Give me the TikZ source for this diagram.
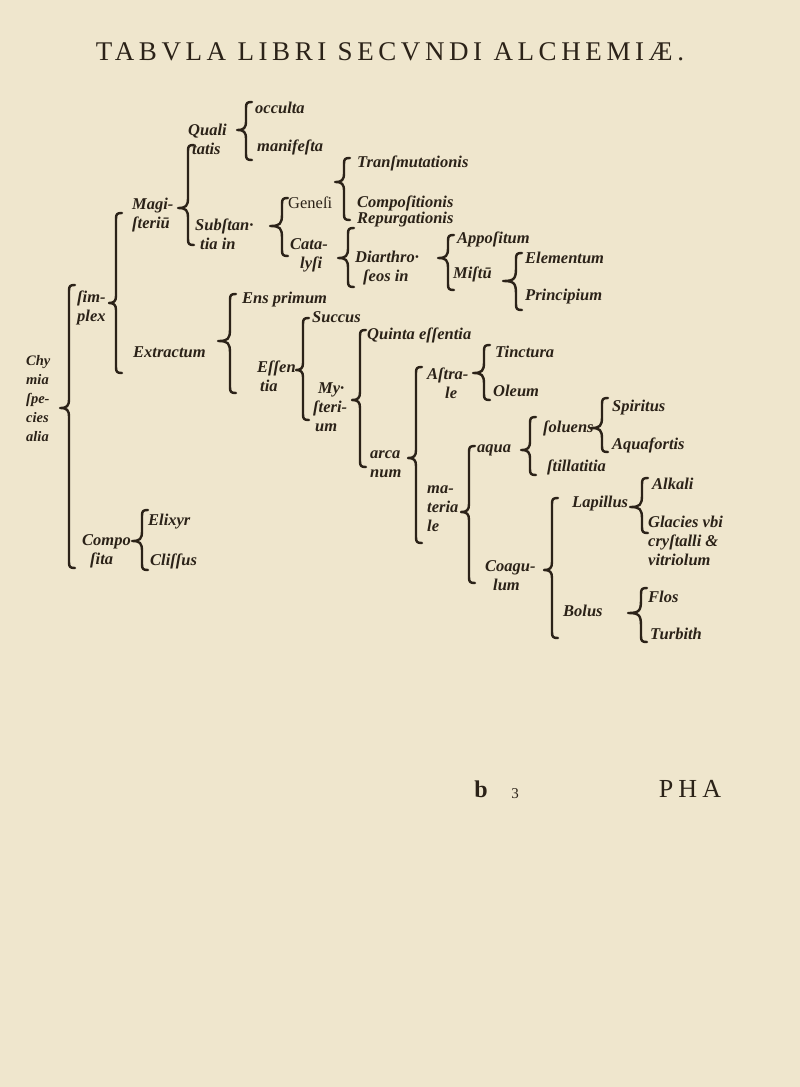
\documentclass[tikz,border=0pt]{standalone}
\usepackage{fontspec}
\setmainfont{Liberation Serif}
\definecolor{paper}{HTML}{EFE6CD}
\definecolor{ink}{HTML}{2B2218}
\newcommand\lblfont{\fontsize{16.5}{19}\selectfont\bfseries\itshape}
\newcommand\genfont{\fontsize{16.5}{19}\selectfont}
\newcommand\chyfont{\fontsize{14.5}{19}\selectfont\bfseries\itshape}
\newcommand\titlefont{\fontsize{27}{30}\selectfont\addfontfeature{LetterSpace=17}}
\newcommand\catchfont{\fontsize{26}{30}\selectfont\addfontfeature{LetterSpace=20}}
% curly brace: line x, tip x, top y, tip y, bottom y
\newcommand\brc[5]{\draw[bracestyle] ({#1+6},#3) .. controls ({#1+1},#3) and (#1,{#3+1}) .. (#1,{#3+6}) -- (#1,{#4-(#1-#2)}) .. controls (#1,{#4-2}) and ({#1-2},#4) .. (#2,#4) .. controls ({#1-2},#4) and (#1,{#4+2}) .. (#1,{#4+(#1-#2)}) -- (#1,{#5-6}) .. controls (#1,{#5-1}) and ({#1+1},#5) .. ({#1+6},#5);}
\begin{document}
\begin{tikzpicture}[x=1pt,y=-1pt,
  lbl/.style={font=\lblfont, text=ink, inner sep=0pt, anchor=west, align=left},
  bracestyle/.style={draw=ink, line width=2.4pt, line cap=round, line join=round}]
\fill[paper] (0,0) rectangle (800,1087);
\useasboundingbox (0,0) rectangle (800,1087);

\node[font=\titlefont, text=ink, inner sep=0pt] (title) at (390,52) {TABVLA LIBRI SECVNDI ALCHEMIÆ.};

\node[lbl] (occulta) at (255,108) {occulta};
\node[lbl] (manifesta) at (257,147) {manifeſta};
\node[lbl] (qualitatis) at (188,139) {Quali\\\hspace*{4pt}tatis};
\node[lbl] (magisterium) at (132,215) {Magi-\\ſteriū};
\node[lbl] (substantia) at (195,234) {Subſtan·\\\hspace*{5pt}tia in};
\node[lbl, font=\genfont] (genesi) at (288,203) {Geneſi};
\node[lbl] (catalysi) at (290,255) {Cata-\\\hspace*{10pt}lyſi};
\node[lbl] (transmutationis) at (357,163) {Tranſmutationis};
\node[lbl] (compositionis) at (357,203) {Compoſitionis};
\node[lbl] (repurgationis) at (357,220) {Repurgationis};
\node[lbl] (diarthroseos) at (355,268) {Diarthro·\\\hspace*{8pt}ſeos in};
\node[lbl] (appositum) at (457,239) {Appoſitum};
\node[lbl] (mistum) at (453,274) {Miſtū};
\node[lbl] (elementum) at (525,258) {Elementum};
\node[lbl] (principium) at (525,297) {Principium};
\node[lbl] (simplex) at (77,308) {ſim-\\plex};
\node[lbl] (extractum) at (133,352) {Extractum};
\node[lbl] (ensprimum) at (242,300) {Ens primum};
\node[lbl] (essentia) at (257,376) {Eſſen\\\hspace*{3pt}tia};
\node[lbl] (succus) at (312,317) {Succus};
\node[lbl] (mysterium) at (313,407) {\hspace*{5pt}My·\\ſteri-\\\hspace*{2pt}um};
\node[lbl] (quinta) at (367,335) {Quinta eſſentia};
\node[lbl] (arcanum) at (370,464) {arca\\num};
\node[lbl] (astrale) at (427,383) {Aſtra-\\\hspace*{18pt}le};
\node[lbl] (tinctura) at (495,352) {Tinctura};
\node[lbl] (oleum) at (493,391) {Oleum};
\node[lbl] (materiale) at (427,509) {ma-\\teria\\le};
\node[lbl] (aqua) at (477,450) {aqua};
\node[lbl] (soluens) at (543,428) {ſoluens};
\node[lbl] (spiritus) at (612,408) {Spiritus};
\node[lbl] (aquafortis) at (612,445) {Aquafortis};
\node[lbl] (stillatitia) at (547,467) {ſtillatitia};
\node[lbl] (coagulum) at (485,576) {Coagu-\\\hspace*{8pt}lum};
\node[lbl] (lapillus) at (572,504) {Lapillus};
\node[lbl] (alkali) at (652,484) {Alkali};
\node[lbl] (glacies) at (648,541) {Glacies vbi\\cryſtalli \&\\vitriolum};
\node[lbl] (bolus) at (563,611) {Bolus};
\node[lbl] (flos) at (648,597) {Flos};
\node[lbl] (turbith) at (650,634) {Turbith};
\node[lbl, font=\chyfont] (chymia) at (26,399) {Chy\\mia\\ſpe-\\cies\\alia};
\node[lbl] (composita) at (82,551) {Compo\\\hspace*{8pt}ſita};
\node[lbl] (elixyr) at (148,522) {Elixyr};
\node[lbl] (clissus) at (150,561) {Cliſſus};

% braces
\brc{69}{60}{285}{408}{568}
\brc{116}{109}{213}{303}{373}
\brc{188}{178}{145}{208}{245}
\brc{246}{237}{102}{130}{160}
\brc{282}{270}{198}{226}{256}
\brc{344}{335}{158}{182}{220}
\brc{348}{338}{228}{258}{287}
\brc{448}{438}{235}{258}{290}
\brc{516}{503}{253}{281}{310}
\brc{230}{218}{294}{341}{393}
\brc{303}{296}{318}{370}{420}
\brc{360}{352}{330}{400}{467}
\brc{416}{408}{367}{458}{543}
\brc{484}{473}{345}{373}{400}
\brc{469}{461}{446}{512}{583}
\brc{530}{521}{417}{450}{475}
\brc{602}{591}{398}{428}{452}
\brc{552}{544}{498}{570}{638}
\brc{642}{630}{478}{507}{533}
\brc{641}{628}{588}{613}{642}
\brc{142}{132}{510}{541}{570}

\node[font=\fontsize{24}{28}\selectfont\bfseries, text=ink, inner sep=0pt] (sigb) at (481,789) {b};
\node[font=\fontsize{15}{18}\selectfont, text=ink, inner sep=0pt] (sig3) at (515,794) {3};
\node[font=\catchfont, text=ink, inner sep=0pt] (catch) at (690,789) {PHA};
\end{tikzpicture}
\end{document}
